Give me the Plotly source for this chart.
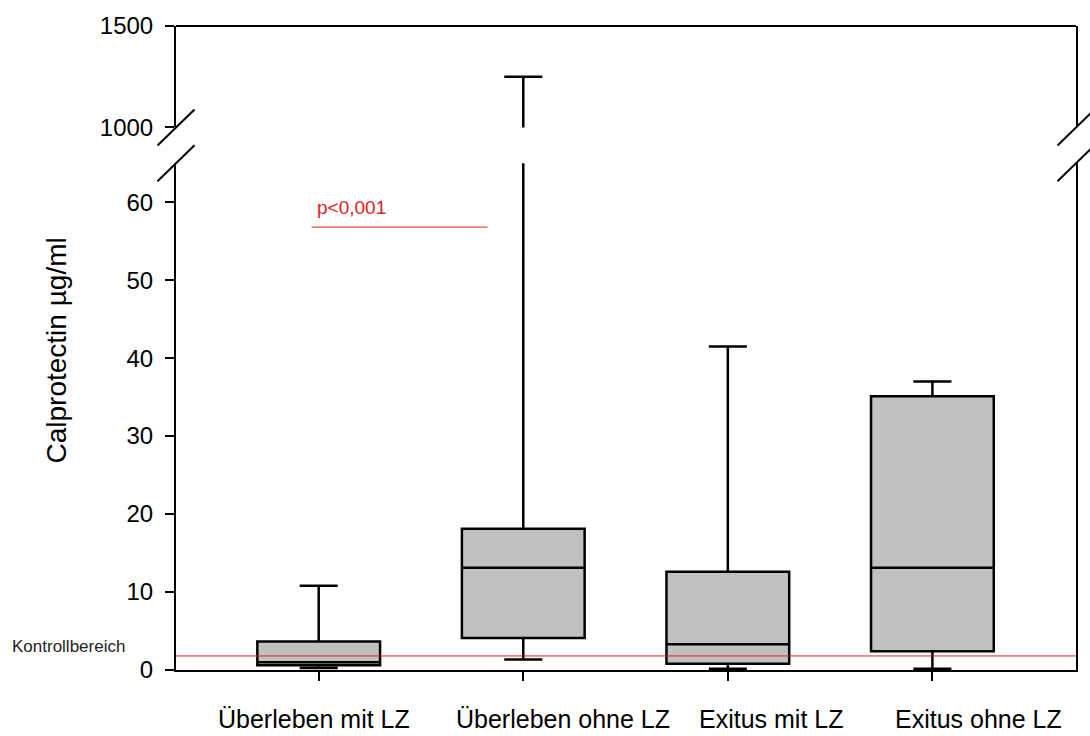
import plotly.graph_objects as go

# ---------------- data ----------------
categories = ["Überleben mit LZ", "Überleben ohne LZ", "Exitus mit LZ", "Exitus ohne LZ"]
positions = [0, 1, 2, 3]
lower_whisker = [0.25, 1.35, 0.17, 0.17]
q1_values = [0.6, 4.1, 0.8, 2.4]
median_values = [1.0, 13.1, 3.3, 13.1]
q3_values = [3.65, 18.1, 12.6, 35.1]
upper_whisker = [10.8, 1250, 41.5, 37.0]

control_value = 1.8
control_label = "Kontrollbereich"
p_label = "p<0,001"
p_line_y = 56.8
p_line_x = [-0.035, 0.825]

lower_ticks = [0, 10, 20, 30, 40, 50, 60]
upper_ticks = [1000, 1500]
lower_range = [0, 65]
upper_range = [1000, 1500]
y_title = "Calprotectin µg/ml"

# ---------------- layout constants ----------------
FONT = "Liberation Sans, Arial, sans-serif"
RED = "#e31b23"
LOW_DOM = [0, 0.787]
UP_DOM = [0.8425, 1]

fig = go.Figure()
for yax in ["y", "y2"]:
    fig.add_trace(go.Box(
        x=positions, q1=q1_values, median=median_values, q3=q3_values,
        lowerfence=lower_whisker, upperfence=upper_whisker,
        width=0.6, whiskerwidth=0.31, fillcolor="#c0c0c0",
        line=dict(color="black", width=2.5), boxpoints=False,
        showlegend=False, hoverinfo="skip", yaxis=yax, xaxis="x",
    ))

axis_common = dict(showline=True, linecolor="black", linewidth=2, mirror=True,
                   ticks="outside", ticklen=9, tickwidth=2, tickcolor="black",
                   showgrid=False, zeroline=False,
                   tickfont=dict(family=FONT, size=24, color="black"),
                   ticklabelstandoff=7)

fig.update_layout(
    width=1090, height=736,
    margin=dict(l=176, r=12, t=22, b=66),
    paper_bgcolor="white", plot_bgcolor="white",
    showlegend=False,
    xaxis=dict(domain=[0, 1], range=[-0.6976, 3.702], anchor="y",
               showline=True, linecolor="black", linewidth=2,
               ticks="outside", ticklen=9, tickwidth=2, tickcolor="black",
               tickvals=positions, showticklabels=False,
               showgrid=False, zeroline=False),
    yaxis=dict(domain=LOW_DOM, range=lower_range, tickvals=lower_ticks, anchor="x", **axis_common),
    yaxis2=dict(domain=UP_DOM, range=upper_range, tickvals=upper_ticks, anchor="x", **axis_common),
)

shapes = []
# top border
shapes.append(dict(type="line", xref="paper", yref="paper", x0=0, x1=1, y0=1, y1=1,
                   line=dict(color="black", width=2)))
# axis break slashes
for xa in [0, 1]:
    for ya in [LOW_DOM[1], UP_DOM[0]]:
        shapes.append(dict(type="line", xref="paper", yref="paper",
                           xsizemode="pixel", ysizemode="pixel",
                           xanchor=xa, yanchor=ya, x0=-18.5, x1=18.5, y0=-18, y1=18,
                           line=dict(color="black", width=2)))
# control range line
shapes.append(dict(type="line", xref="paper", yref="y", x0=0, x1=1,
                   y0=control_value, y1=control_value, line=dict(color=RED, width=1)))
# significance line
shapes.append(dict(type="line", xref="x", yref="y", x0=p_line_x[0], x1=p_line_x[1],
                   y0=p_line_y, y1=p_line_y, line=dict(color=RED, width=1)))
fig.update_layout(shapes=shapes)

annotations = []
label_shift = [-4.5, 40, 43, 46.5]
for pos, cat, sh in zip(positions, categories, label_shift):
    annotations.append(dict(x=pos, y=-0.0763, xref="x", yref="paper", text=cat,
                            showarrow=False, xanchor="center", yanchor="middle",
                            xshift=sh, font=dict(family=FONT, size=25, color="black")))
annotations.append(dict(x=-0.133, y=0.4966, xref="paper", yref="paper", text=y_title,
                        textangle=-90, showarrow=False, xanchor="center", yanchor="middle",
                        font=dict(family=FONT, size=28, color="black")))
annotations.append(dict(x=-0.184, y=control_value, xref="paper", yref="y", text=control_label,
                        showarrow=False, xanchor="left", yanchor="middle", yshift=9,
                        font=dict(family=FONT, size=17, color="#222222")))
annotations.append(dict(x=p_line_x[0] + 0.015, y=p_line_y, xref="x", yref="y", text=p_label,
                        showarrow=False, xanchor="left", yanchor="middle", yshift=20,
                        font=dict(family=FONT, size=19, color=RED)))
fig.update_layout(annotations=annotations)

fig.write_html("out.html")
